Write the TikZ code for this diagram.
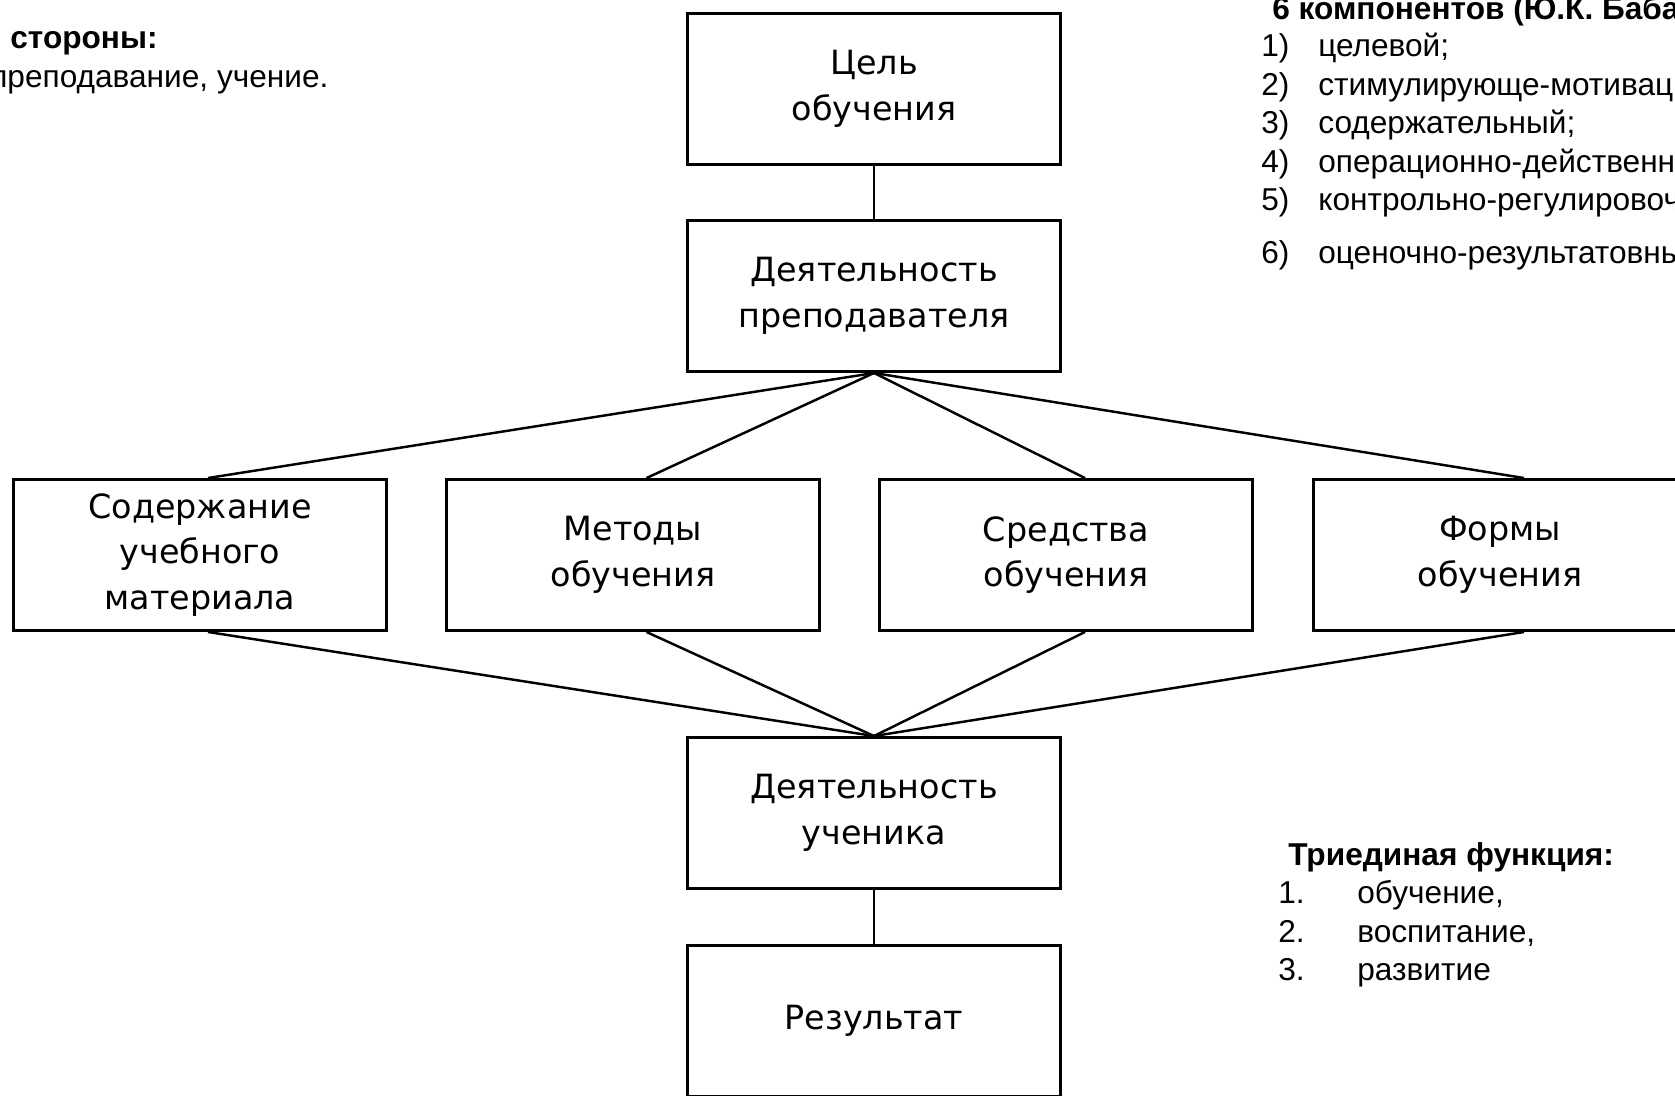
\documentclass[tikz,border=0pt]{standalone}
\usepackage{fontspec}
\setmainfont{Liberation Sans}
\newfontfamily\boxfont{DejaVu Sans}

\begin{document}
\begin{tikzpicture}
[x=0.02cm,y=-0.02cm,
  boxDecorate/.style={shape=rectangle,draw,line width=1.7pt,minimum width=7.48cm,
    minimum height=3.02cm,align=center,font=\boxfont\fontsize{19}{26}\selectfont},
  lineDecorate/.style={-,line width=1.4pt},
  listText/.style={anchor=base west,inner sep=0pt,font=\fontsize{18}{21}\selectfont},
  listHead/.style={listText,font=\bfseries\fontsize{18}{21}\selectfont}]
\clip (0,0) rectangle (1675,1095);
%% boxes
\foreach \nodename/\x/\y/\boxtext in {
  goal/874/89/{Цель\\обучения}, teacher/874/296/{Деятельность\\преподавателя},
  content/200/555/{Содержание\\учебного\\материала}, methods/633/555/{Методы\\обучения},
  means/1066/555/{Средства\\обучения}, forms/1500/555/{Формы\\обучения},
  student/874/813/{Деятельность\\ученика}, result/874/1021/{Результат}}
{
  \node (\nodename) at (\x,\y) [boxDecorate] {\boxtext};
}
%% edges
\draw[lineDecorate] (goal) -- (teacher);
\draw[lineDecorate] (student) -- (result);
\path
\foreach \endnode/\shift in {
  content/0.16cm, methods/0.27cm, means/0.38cm, forms/0.48cm}
{
  (teacher.south) edge[lineDecorate] ([xshift=\shift]\endnode.north)
  ([xshift=\shift]\endnode.south) edge[lineDecorate] (student.north)
};
%% side texts
\node (sidesHead) [listHead] at (10,49) {стороны:};
\node (sidesText) [listText] at (-10,88) {преподавание, учение.};
\node (compHead) [listHead] at (1272,20) {6 компонентов (Ю.К. Бабанский):};
\foreach \num/\y/\entry in {
  1/57/целевой;, 2/95/стимулирующе-мотивационный;, 3/133/содержательный;,
  4/172/операционно-действенный;, 5/210/контрольно-регулировочный;,
  6/263/оценочно-результатовный.}
{
  \node (compNum\num) [listText] at (1261,\y) {\num)};
  \node (compItem\num) [listText] at (1318,\y) {\entry};
}
\node (funcHead) [listHead] at (1288,865) {Триединая функция:};
\foreach \num/\y/\entry in {
  1/903/{обучение,}, 2/942/{воспитание,}, 3/980/{развитие}}
{
  \node (funcNum\num) [listText] at (1278,\y) {\num.};
  \node (funcItem\num) [listText] at (1357,\y) {\entry};
}
\end{tikzpicture}
\end{document}
